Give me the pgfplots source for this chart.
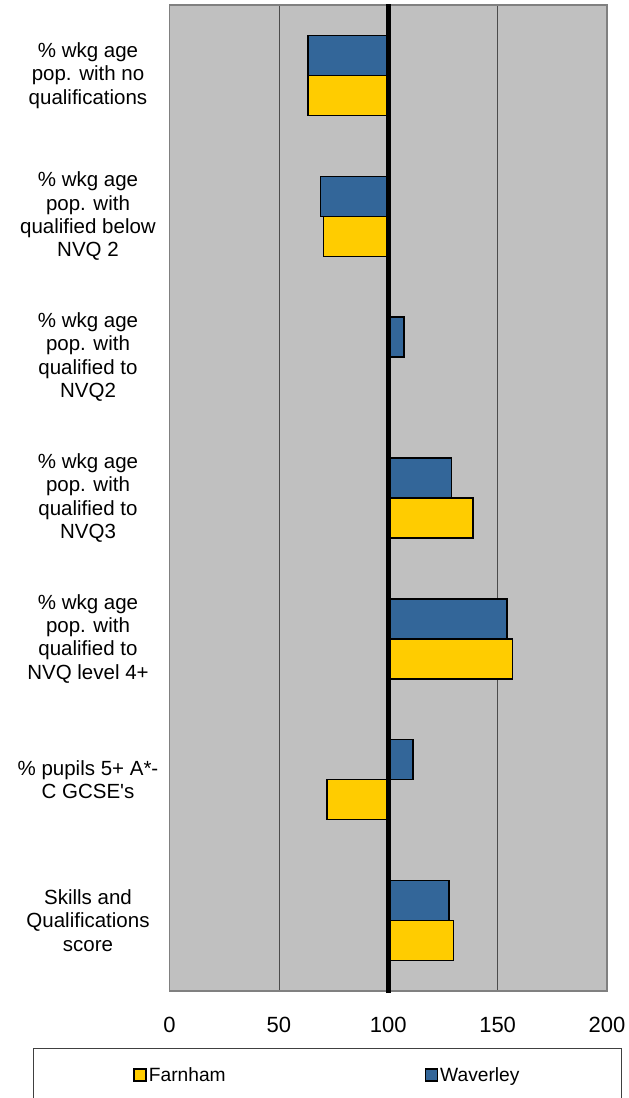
\documentclass[border=0pt]{standalone}
\usepackage{pgfplots}
\pgfplotsset{compat=1.18}
\usepackage{fontspec}
\setmainfont{Liberation Sans}
\definecolor{farn}{HTML}{FFCC00}
\definecolor{wav}{HTML}{336699}
\definecolor{bg}{HTML}{C0C0C0}
\begin{document}
\begin{tikzpicture}
\useasboundingbox (-169.5pt,-107pt) rectangle (459.5pt,991pt);
\begin{axis}[
  at={(0pt,0pt)}, anchor=south west,
  scale only axis, width=437.5pt, height=986pt,
  xbar, bar width=40pt,
  x coord trafo/.code={\pgfmathparse{#1-100}},
  x coord inv trafo/.code={\pgfmathparse{#1+100}},
  xmin=0, xmax=200,
  ymin=-0.5, ymax=6.5,
  xtick={0,50,100,150,200},
  xticklabels={0,50,100,150,200},
  xmajorgrids, grid style={color=black!70, line width=0.7pt},
  major tick length=0pt,
  ytick={0,1,2,3,4,5,6},
  yticklabels={{Skills and\\Qualifications\\score},
               {\% pupils 5+ A*-\\C GCSE\textquotesingle s},
               {\% wkg age\\pop. with\\qualified to\\NVQ level 4+},
               {\% wkg age\\pop. with\\qualified to\\NVQ3},
               {\% wkg age\\pop. with\\qualified to\\NVQ2},
               {\% wkg age\\pop. with\\qualified below\\NVQ 2},
               {\% wkg age\\pop. with no\\qualifications}},
  yticklabel style={anchor=center, xshift=-81.5pt, align=center,
     font=\fontsize{20.5}{23.3}\selectfont, inner sep=0pt},
  xticklabel style={font=\fontsize{22}{26}\selectfont, inner sep=0pt, anchor=north, yshift=-26pt},
  axis background/.style={fill=bg},
  axis line style={color=black!50, line width=1.5pt},
  clip=false,
  legend columns=2,
  legend style={at={(0.361,-0.0578)}, anchor=north, draw=black!75, line width=0.8pt, fill=white,
     inner xsep=99.5pt, inner ysep=17pt,
     font=\fontsize{19.2}{22}\selectfont,
     nodes={inner sep=2pt},
     /tikz/every even column/.append style={column sep=197pt}},
  legend image code/.code={\draw[#1, line width=1.5pt] (0pt,-6pt) rectangle (12pt,6pt);},
]
\addplot[fill=farn, draw=black, line width=1.5pt, bar shift=-20pt] coordinates {
 (129.9,0) (72.1,1) (156.7,2) (138.7,3) (100,4) (70.5,5) (63.4,6)};
\addlegendentry{Farnham}
\addplot[fill=wav, draw=black, line width=1.5pt, bar shift=20pt] coordinates {
 (127.8,0) (111.3,1) (154.2,2) (129.0,3) (107.1,4) (69.0,5) (63.4,6)};
\addlegendentry{Waverley}
\addplot[black, line width=4.5pt, forget plot, xbar=0pt, bar width=0pt, sharp plot] coordinates {(100,-0.515) (100,6.51)};
\end{axis}
\end{tikzpicture}
\end{document}
